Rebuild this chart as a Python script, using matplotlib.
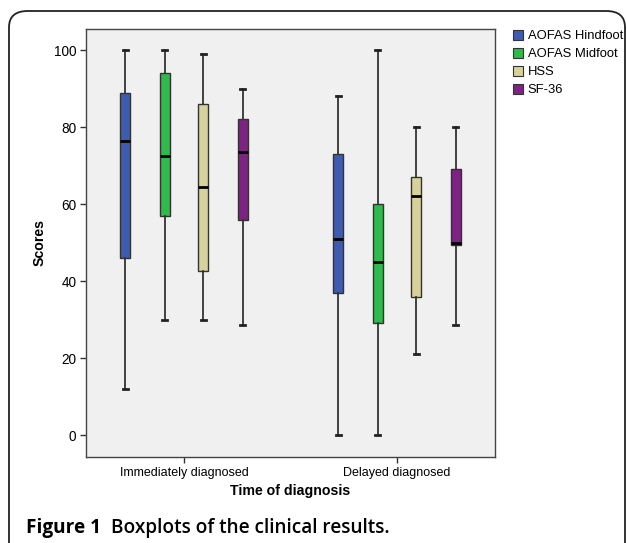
import matplotlib
matplotlib.use("Agg")
import matplotlib.pyplot as plt
from matplotlib.patches import FancyBboxPatch, Patch

plt.rcParams['font.family'] = ['Liberation Sans', 'DejaVu Sans']

groups = ["Immediately diagnosed", "Delayed diagnosed"]
series = ["AOFAS Hindfoot", "AOFAS Midfoot", "HSS", "SF-36"]
colors = ["#3f5bb0", "#2fba4c", "#d7d29b", "#7e2382"]

# five-number summaries [low whisker, Q1, median, Q3, high whisker]
immediate = [
    [12, 46, 76.5, 89, 100],
    [30, 57, 72.5, 94, 100],
    [30, 42.5, 64.5, 86, 99],
    [28.5, 56, 73.5, 82, 90],
]
delayed = [
    [0, 37, 51, 73, 88],
    [0, 29, 45, 60, 100],
    [21, 36, 62, 67, 80],
    [28.5, 49.3, 50, 69, 80],
]
offsets = [-0.275, -0.09, 0.09, 0.275]

fig = plt.figure(figsize=(6.27, 5.43), dpi=100)

frame = FancyBboxPatch((9 / 627, -0.05), 616 / 627, 1 - 11 / 543 + 0.05,
                       boxstyle="round,pad=0,rounding_size=0.03",
                       transform=fig.transFigure, fill=False,
                       edgecolor="#222222", linewidth=1.3)
fig.patches.append(frame)

ax = fig.add_axes([86 / 627, 1 - 457 / 543, 409 / 627, 428 / 543])
ax.set_facecolor("#f0f0f0")

for gi, data in enumerate([immediate, delayed]):
    for si, vals in enumerate(data):
        st = dict(whislo=vals[0], q1=vals[1], med=vals[2], q3=vals[3],
                  whishi=vals[4], fliers=[])
        ax.bxp([st], positions=[gi + offsets[si]], widths=0.047,
               capwidths=0.022, patch_artist=True, showfliers=False,
               boxprops=dict(facecolor=colors[si], edgecolor="#333333", linewidth=1),
               medianprops=dict(color="black", linewidth=2),
               whiskerprops=dict(color="#333333", linewidth=1.3),
               capprops=dict(color="#222222", linewidth=2))

ax.set_xlim(-0.46, 1.46)
ax.set_ylim(-5.7, 105.5)
ax.set_xticks([0, 1])
ax.set_xticklabels(groups)
ax.set_yticks([0, 20, 40, 60, 80, 100])
ax.tick_params(axis="both", length=4, width=1, color="#333333", pad=3)
ax.tick_params(axis="x", labelsize=9)
ax.tick_params(axis="y", labelsize=9.8)
for s in ax.spines.values():
    s.set_color("#444444")
    s.set_linewidth(1)

ax.set_ylabel("Scores", fontsize=10.2, fontweight="bold", labelpad=5)
ax.set_xlabel("Time of diagnosis", fontsize=10.2, fontweight="bold", labelpad=4)

handles = [Patch(facecolor=c, edgecolor="#333333", linewidth=0.8) for c in colors]
fig.legend(handles, series, loc="upper left", bbox_to_anchor=(506 / 627, 1 - 23 / 543),
           frameon=False, fontsize=9.4, handlelength=0.8, handleheight=0.8,
           handletextpad=0.35, labelspacing=0.42, borderpad=0)

fig.text(26 / 627, 1 - 528 / 543, "Figure 1", fontsize=13.7, fontweight="bold",
         family=["Open Sans", "DejaVu Sans"], va="center")
fig.text(111 / 627, 1 - 528 / 543, "Boxplots of the clinical results.", fontsize=13.7,
         fontweight="semibold", family=["Open Sans", "DejaVu Sans"], va="center")

fig.savefig("out.png", dpi=100)
